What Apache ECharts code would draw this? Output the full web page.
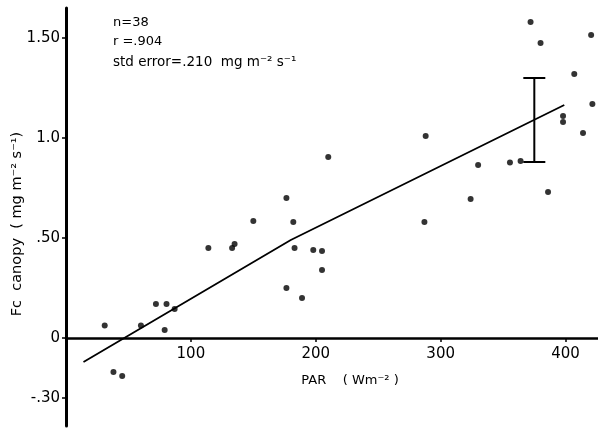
<!DOCTYPE html>
<html>
<head>
<meta charset="utf-8">
<script src="https://cdn.jsdelivr.net/npm/echarts@6/dist/echarts.min.js"></script>
<style>
  html, body { margin: 0; padding: 0; background: #fff; }
  #chart { width: 598px; height: 429px; }
</style>
</head>
<body>
<div id="chart"></div>
<script>
// measured points, PAR (W m-2) vs Fc canopy (mg m-2 s-1)
var parValues = [31, 38, 45, 60, 72, 80.5, 79, 87, 114, 133, 135, 150, 176.5, 182, 183, 176.5, 189, 198,
  205, 205, 210, 287, 288, 324, 330, 355.5, 364, 372, 380, 386, 398, 398, 407, 414, 420.5, 421.5];
var fcValues = [0.063, -0.17, -0.19, 0.063, 0.17, 0.17, 0.04, 0.145, 0.45, 0.45, 0.47, 0.585, 0.70, 0.58, 0.45, 0.25, 0.20, 0.44,
  0.435, 0.34, 0.905, 0.58, 1.01, 0.695, 0.865, 0.878, 0.885, 1.58, 1.475, 0.73, 1.08, 1.11, 1.32, 1.025, 1.515, 1.17];

// fitted line (drawn with a bend)
var fitPar = [14, 180, 399];
var fitFc = [-0.12, 0.49, 1.165];

// std error bar
var errPar = [375];
var errLow = [0.88];
var errHigh = [1.30];

var yTickValues = [-0.3, 0, 0.5, 1.0, 1.5];
var yTickLabels = ['-.30', '0', '.50', '1.0', '1.50'];

var chart = echarts.init(document.getElementById('chart'), null, { renderer: 'canvas' });

var points = parValues.map(function (p, i) { return [p, fcValues[i]]; });
var fitLine = fitPar.map(function (p, i) { return [p, fitFc[i]]; });
var errData = errPar.map(function (p, i) { return [p, errLow[i], errHigh[i]]; });

var ink = '#000';
var font = 'DejaVu Sans';
var gridBottom = 3;

var option = {
  backgroundColor: '#fff',
  animation: false,
  textStyle: { fontFamily: font, color: ink },
  grid: { left: 66, right: 0, top: 8, bottom: gridBottom, outerBoundsMode: 'none' },
  xAxis: {
    type: 'value',
    min: 0,
    max: 426,
    interval: 100,
    offset: 0,
    name: 'PAR    ( Wm\u207B\u00B2 )',
    nameLocation: 'middle',
    nameGap: 36,
    nameTextStyle: { fontSize: 13, color: ink, padding: [0, 0, 0, 36] },
    axisLine: { onZero: false, lineStyle: { color: ink, width: 2.5 } },
    axisTick: { length: 4, lineStyle: { color: ink, width: 1.5 } },
    axisLabel: {
      fontSize: 15,
      color: ink,
      margin: 9,
      showMaxLabel: false,
      formatter: function (v) { return v === 0 ? '' : String(v); }
    },
    splitLine: { show: false }
  },
  yAxis: {
    type: 'value',
    min: -0.44,
    max: 1.65,
    name: 'Fc  canopy  ( mg m\u207B\u00B2 s\u207B\u00B9)',
    nameLocation: 'middle',
    nameGap: 41,
    nameMoveOverlap: false,
    nameTextStyle: { fontSize: 14.5, color: ink, padding: [0, 14, 0, 0] },
    axisLine: { onZero: false, lineStyle: { color: ink, width: 3 } },
    axisTick: { customValues: yTickValues, length: 4, lineStyle: { color: ink, width: 1.5 } },
    axisLabel: {
      customValues: yTickValues,
      fontSize: 15,
      color: ink,
      margin: 6,
      formatter: function (v) {
        var i = yTickValues.findIndex(function (t) { return Math.abs(t - v) < 1e-6; });
        return i >= 0 ? yTickLabels[i] : '';
      }
    },
    splitLine: { show: false }
  },
  graphic: [
    {
      type: 'group',
      left: 113,
      top: 16,
      children: [
        { type: 'text', left: 0, top: 0, style: { text: 'n=38', font: '13px ' + font, fill: ink } },
        { type: 'text', left: 0, top: 19, style: { text: 'r =.904', font: '13px ' + font, fill: ink } },
        { type: 'text', left: 0, top: 39, style: { text: 'std error=.210  mg m\u207B\u00B2 s\u207B\u00B9', font: '13.5px ' + font, fill: ink } }
      ]
    }
  ],
  series: [
    {
      type: 'scatter',
      data: points,
      symbol: 'circle',
      symbolSize: 6,
      itemStyle: { color: ink }
    },
    {
      type: 'line',
      data: fitLine,
      symbol: 'none',
      lineStyle: { color: ink, width: 1.8 }
    },
    {
      type: 'custom',
      data: errData,
      renderItem: function (params, api) {
        var x = api.value(0);
        var lo = api.coord([x, api.value(1)]);
        var hi = api.coord([x, api.value(2)]);
        var cap = 11;
        var st = { stroke: ink, lineWidth: 2 };
        return {
          type: 'group',
          children: [
            { type: 'line', shape: { x1: hi[0], y1: hi[1], x2: lo[0], y2: lo[1] }, style: st },
            { type: 'line', shape: { x1: hi[0] - cap, y1: hi[1], x2: hi[0] + cap, y2: hi[1] }, style: st },
            { type: 'line', shape: { x1: lo[0] - cap, y1: lo[1], x2: lo[0] + cap, y2: lo[1] }, style: st }
          ]
        };
      }
    }
  ]
};

chart.setOption(option);

// move the x axis (line, ticks, labels, name) up to y = 0
var zeroY = chart.convertToPixel({ yAxisIndex: 0 }, 0);
var bottomY = chart.getHeight() - gridBottom;
chart.setOption({ xAxis: { offset: -(bottomY - zeroY) } });
</script>
</body>
</html>
